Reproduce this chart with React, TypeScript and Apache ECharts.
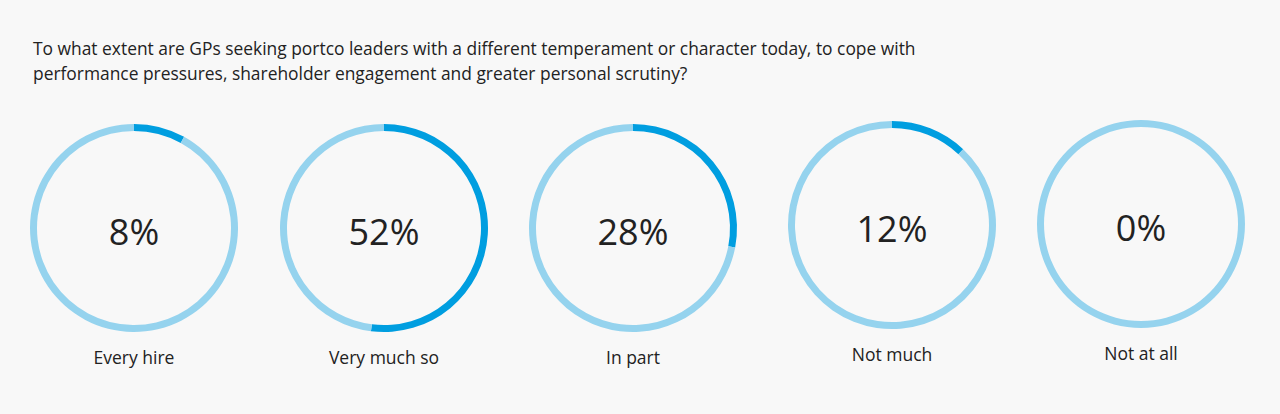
import React, { useEffect, useRef } from "react";
import * as echarts from "echarts";

const TITLE_LINES = [
  "To what extent are GPs seeking portco leaders with a different temperament or character today, to cope with",
  "performance pressures, shareholder engagement and greater personal scrutiny?",
];
const categories = ["Every hire", "Very much so", "In part", "Not much", "Not at all"];
const values = [8, 52, 28, 12, 0];
const centersX = [134, 384, 633, 892, 1141];
const centersY = [228, 228, 228, 225, 224];

const DARK = "#009ee0";
const LIGHT = "#95d3ee";
const FONT = "'Open Sans', 'Noto Sans', sans-serif";

export default function App() {
  const ref = useRef<HTMLDivElement>(null);
  useEffect(() => {
    if (!ref.current) return;
    const chart = echarts.init(ref.current, undefined, { renderer: "svg" });
    const series = values.map((v, i) => ({
      type: "pie",
      radius: [97, 104],
      center: [centersX[i], centersY[i]],
      startAngle: 90,
      clockwise: true,
      silent: true,
      label: { show: false },
      labelLine: { show: false },
      emphasis: { disabled: true },
      data: [
        { value: v, name: categories[i], itemStyle: { color: DARK } },
        { value: 100 - v, name: categories[i] + " rest", itemStyle: { color: LIGHT } },
      ],
    }));
    const texts: any[] = [];
    values.forEach((v, i) => {
      texts.push({
        type: "text",
        x: centersX[i],
        y: centersY[i] + 3,
        style: {
          text: v + "%",
          fill: "#222222",
          font: `36px ${FONT}`,
          textAlign: "center",
          textVerticalAlign: "middle",
        },
      });
      texts.push({
        type: "text",
        x: centersX[i],
        y: centersY[i] + 129,
        style: {
          text: categories[i],
          fill: "#222222",
          font: `17.5px ${FONT}`,
          textAlign: "center",
          textVerticalAlign: "middle",
        },
      });
    });
    TITLE_LINES.forEach((t, i) => {
      texts.push({
        type: "text",
        x: 33,
        y: 48 + i * 25,
        style: {
          text: t,
          fill: "#222222",
          font: `17.4px ${FONT}`,
          textAlign: "left",
          textVerticalAlign: "middle",
        },
      });
    });
    chart.setOption({
      animation: false,
      backgroundColor: "#f8f8f8",
      series,
      graphic: texts,
    });
    return () => chart.dispose();
  }, []);
  return (
    <div
      ref={ref}
      style={{ position: "absolute", left: 0, top: 0, width: 1280, height: 414 }}
    />
  );
}
